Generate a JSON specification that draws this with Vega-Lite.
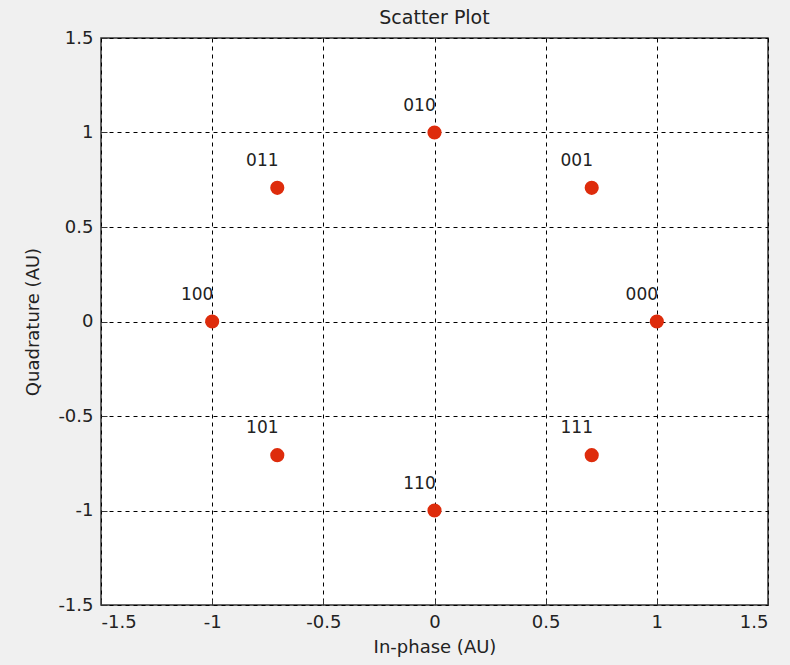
{
  "$schema": "https://vega.github.io/schema/vega-lite/v6.json",
  "width": 667,
  "height": 567,
  "autosize": "none",
  "padding": {"left": 101, "top": 38, "right": 22, "bottom": 60},
  "background": "#f0f0f0",
  "title": {"text": "Scatter Plot", "font": "DejaVu Sans", "fontSize": 19, "fontWeight": "normal", "color": "#222222", "offset": 1},
  "config": {
    "view": {"fill": "white", "stroke": "#333333", "strokeWidth": 1.5},
    "axis": {
      "labelFont": "DejaVu Sans", "labelFontSize": 18, "labelColor": "#222222",
      "titleFont": "DejaVu Sans", "titleFontSize": 18, "titleFontWeight": "normal", "titleColor": "#222222",
      "grid": true, "gridColor": "#000000", "gridDash": [4, 4], "gridOpacity": 1, "gridWidth": 1,
      "domain": false, "ticks": true, "tickSize": -6, "tickColor": "#333333", "labelPadding": 14,
      "labelExpr": "'' + datum.value"
    }
  },
  "data": {"values": [
    {"I": 1, "Q": 0, "label": "000"},
    {"I": 0.7071, "Q": 0.7071, "label": "001"},
    {"I": 0, "Q": 1, "label": "010"},
    {"I": -0.7071, "Q": 0.7071, "label": "011"},
    {"I": -1, "Q": 0, "label": "100"},
    {"I": -0.7071, "Q": -0.7071, "label": "101"},
    {"I": 0, "Q": -1, "label": "110"},
    {"I": 0.7071, "Q": -0.7071, "label": "111"}
  ]},
  "encoding": {
    "x": {"field": "I", "type": "quantitative", "scale": {"domain": [-1.5, 1.5], "nice": false, "zero": false},
      "axis": {"values": [-1.5, -1, -0.5, 0, 0.5, 1, 1.5], "title": "In-phase (AU)", "titlePadding": 7}},
    "y": {"field": "Q", "type": "quantitative", "scale": {"domain": [-1.5, 1.5], "nice": false, "zero": false},
      "axis": {"values": [-1.5, -1, -0.5, 0, 0.5, 1, 1.5], "title": "Quadrature (AU)", "titlePadding": 15}}
  },
  "layer": [
    {"mark": {"type": "circle", "size": 200, "color": "#de2c0c", "opacity": 1}},
    {"mark": {"type": "text", "dx": -15, "dy": -27, "font": "DejaVu Sans", "fontSize": 17, "color": "#222222", "align": "center", "baseline": "middle"},
      "encoding": {"text": {"field": "label"}}}
  ]
}
